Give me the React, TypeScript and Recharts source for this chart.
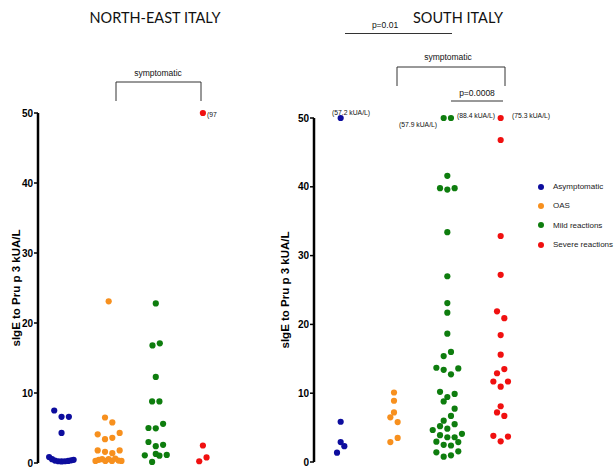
import { ScatterChart, Scatter, XAxis, YAxis, Legend } from "recharts";

const GROUPS = ["Asymptomatic", "OAS", "Mild reactions", "Severe reactions"];
const COLORS = ["#0d0d9e", "#f7901e", "#0e7d0e", "#f01010"];
const Y_TICKS = [0, 10, 20, 30, 40, 50];
const Y_LABEL = "sIgE to Pru p 3 kUA/L";

// [sIgE value, horizontal slot within the column]  values above 50 are plotted at 50
const neAsymptomatic = [
  [7.5, -2], [6.6, 0], [6.6, 2], [4.3, 0], [0.85, -3.4], [0.55, -2.6], [0.35, -1.8],
  [0.25, -0.9], [0.22, 0], [0.25, 0.9], [0.3, 1.8], [0.38, 2.6], [0.45, 3.3]
];
const neOAS = [
  [23.1, 0], [6.5, -1], [5.8, 1], [4.3, 3], [4.1, -3], [3.4, -1], [3.6, 1], [1.8, -3],
  [1.6, -1], [1.4, 1], [1.8, 3], [0.3, -3.6], [0.45, -2.7], [0.55, -1.8], [0.3, -0.9],
  [0.55, 0], [0.3, 0.9], [0.62, 1.8], [0.35, 2.7], [0.3, 3.5]
];
const neMild = [
  [22.8, 0], [17.1, 1.1], [16.8, -0.9], [12.3, 0], [8.8, -1], [8.8, 1], [5.6, 2], [5.0, -2],
  [4.95, 0], [3.0, -2], [2.6, 2], [2.4, 0], [1.3, 0], [1.15, 3], [1.1, -3], [1.05, 1], [0.15, -1]
];
const neSevere = [[50, 0], [2.5, 0], [0.8, 1], [0.25, -1]];

const sAsymptomatic = [[50, 0], [5.85, 0], [2.9, 0], [2.3, 1], [1.35, -1]];
const sOAS = [[10.1, 0], [8.9, 0], [7.2, 0], [6.5, -1], [5.8, 1], [3.5, 1], [2.9, -1]];
const sMild = [
  [50, -1], [50, 1], [41.6, 0], [39.8, -2], [39.6, 0], [39.8, 2], [33.4, 0], [27, 0],
  [23.1, 0], [21.7, 0], [18.65, 0], [16.0, 1], [15.4, -1], [13.7, -3], [13.4, -1],
  [12.75, 1], [13.6, 3], [10.2, -2], [9.45, 0], [9.9, 2], [8.8, -1], [7.75, 2], [6.7, 1],
  [6.0, -1], [5.5, 2], [5.2, -2], [4.85, 0], [4.65, -4], [3.9, -2], [3.6, 0], [3.6, 2],
  [4.1, 4], [2.95, -3], [2.5, -1], [2.4, 1], [2.9, 3], [1.4, -3], [0.77, -1], [0.97, 1], [1.55, 3]
];
const sSevere = [
  [50, 0], [46.8, 0], [32.85, 0], [27.2, 0], [21.9, -1], [20.9, 1], [18.45, 0], [15.6, 0],
  [12.9, -1], [13.5, 1], [11.7, -2], [11.7, 2], [10.95, 0], [8.1, 0], [7.2, -1], [6.7, 1],
  [3.8, -2], [3.7, 2], [3.0, 0]
];

const NE_SERIES = [neAsymptomatic, neOAS, neMild, neSevere];
const S_SERIES = [sAsymptomatic, sOAS, sMild, sSevere];

const ARIAL = "'Liberation Sans', Arial, sans-serif";

function toPoints(rows: number[][], group: number, step: number) {
  return rows.map(([v, slot]) => ({ x: group + slot * step, y: v }));
}

const dot = (color: string) => (props: any) => (
  <circle cx={props.cx} cy={props.cy} r={3.1} fill={color} />
);

function LegendList({ payload }: any) {
  // keep the group order, not the alphabetical one
  const items = [...(payload || [])].sort(
    (a: any, b: any) => GROUPS.indexOf(a.value) - GROUPS.indexOf(b.value)
  );
  return (
    <ul style={{ listStyle: "none", margin: 0, padding: 0, fontFamily: ARIAL, fontSize: 8, color: "#222" }}>
      {items.map((e: any) => (
        <li key={e.value} style={{ display: "flex", alignItems: "center", height: 19.3 }}>
          <span style={{ width: 6, height: 6, borderRadius: "50%", background: e.color, marginRight: 9 }} />
          {e.value}
        </li>
      ))}
    </ul>
  );
}

function Panel({ series, step, width, axisWidth, top, bottom, right, legend }: any) {
  return (
    <ScatterChart width={width} height={469} margin={{ top, right, bottom, left: 0 }}>
      <XAxis type="number" dataKey="x" domain={[0.5, 5]} hide />
      <YAxis
        type="number"
        dataKey="y"
        domain={[0, 50]}
        ticks={Y_TICKS}
        width={axisWidth}
        axisLine={{ stroke: "#000", strokeWidth: 2.5 }}
        tickLine={{ stroke: "#000", strokeWidth: 1.5 }}
        tickSize={4}
        tickMargin={1}
        tick={{ fill: "#000", fontSize: 10, fontWeight: "bold", fontFamily: ARIAL }}
        label={{
          value: Y_LABEL,
          angle: -90,
          position: "center",
          style: { fill: "#000", fontSize: 11.5, fontWeight: "bold", fontFamily: ARIAL }
        }}
      />
      {series.map((rows: number[][], i: number) => (
        <Scatter
          key={GROUPS[i]}
          name={GROUPS[i]}
          data={toPoints(rows, i + 1, step)}
          fill={COLORS[i]}
          shape={dot(COLORS[i])}
          isAnimationActive={false}
        />
      ))}
      {legend && (
        <Legend
          layout="vertical"
          align="center"
          verticalAlign="middle"
          content={<LegendList />}
          wrapperStyle={{ left: 282, top: 177, width: 80 }}
        />
      )}
    </ScatterChart>
  );
}

export default function App() {
  const small = { fontFamily: ARIAL, fontSize: 8.5, fill: "#111" };
  const tiny = { fontFamily: ARIAL, fontSize: 6.8, fill: "#111" };
  const title = { fontFamily: "Lato, 'Open Sans', sans-serif", fontSize: 14.5, fill: "#111" };
  return (
    <div style={{ position: "fixed", left: 0, top: 0, width: 614, height: 469, background: "#fff", overflow: "hidden" }}>
      <div style={{ position: "absolute", left: -7, top: 0 }}>
        <Panel series={NE_SERIES} step={3.65 / 47} width={267} axisWidth={45} top={113} bottom={6} right={10} />
      </div>
      <div style={{ position: "absolute", left: 256, top: 0 }}>
        <Panel series={S_SERIES} step={3.65 / 53.3} width={358} axisWidth={58} top={118} bottom={7} right={60} legend />
      </div>
      <svg width={614} height={469} style={{ position: "absolute", left: 0, top: 0, pointerEvents: "none" }}>
        <text x={155} y={23} textAnchor="middle" style={title}>NORTH-EAST ITALY</text>
        <text x={458} y={23} textAnchor="middle" style={title}>SOUTH ITALY</text>

        <text x={158} y={76} textAnchor="middle" style={small}>symptomatic</text>
        <polyline points="116,101 116,82 201,82 201,101" fill="none" stroke="#333" strokeWidth={1} />

        <text x={385} y={28} textAnchor="middle" style={small}>p=0.01</text>
        <line x1={345} y1={33.5} x2={452} y2={33.5} stroke="#333" strokeWidth={1} />
        <text x={448} y={60} textAnchor="middle" style={small}>symptomatic</text>
        <polyline points="397,86 397,67 505,67 505,86" fill="none" stroke="#333" strokeWidth={1} />
        <text x={477} y={96} textAnchor="middle" style={small}>p=0.0008</text>
        <line x1={451} y1={101} x2={503} y2={101} stroke="#333" strokeWidth={1} />

        <text x={207} y={117} style={tiny}>(97</text>
        <text x={351} y={115} textAnchor="middle" style={tiny}>(57.2 kUA/L)</text>
        <text x={418} y={127} textAnchor="middle" style={tiny}>(57.9 kUA/L)</text>
        <text x={476} y={118} textAnchor="middle" style={tiny}>(88.4 kUA/L)</text>
        <text x={531} y={118} textAnchor="middle" style={tiny}>(75.3 kUA/L)</text>
      </svg>
    </div>
  );
}
